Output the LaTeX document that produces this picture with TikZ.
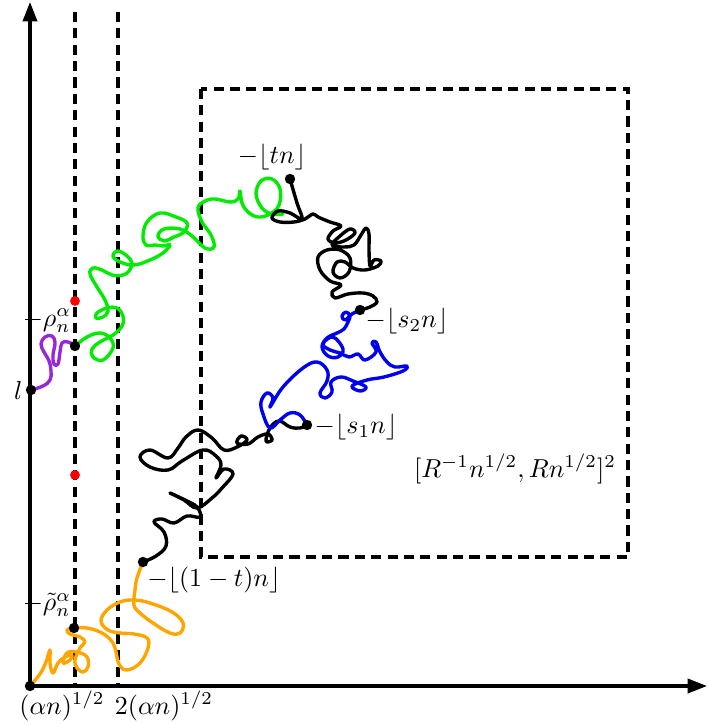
\documentclass[tikz,border=0pt]{standalone}
\usetikzlibrary{arrows.meta}
\definecolor{wgreen}{RGB}{0,235,0}
\definecolor{wblue}{RGB}{0,0,240}
\definecolor{worange}{RGB}{255,165,0}
\definecolor{wpurple}{RGB}{150,40,215}
\definecolor{wred}{RGB}{255,0,0}
\tikzset{
  axis/.style={line width=1.2pt,-{Triangle[length=7.5pt,width=5.5pt]}},
  dashln/.style={line width=1.2pt,dash pattern=on 3.9pt off 2.4pt},
  walk/.style={line width=1.3pt,line join=round,line cap=round},
  dot/.style={circle,fill=black,inner sep=0pt,minimum size=4pt},
  rdot/.style={circle,fill=wred,inner sep=0pt,minimum size=3.8pt},
  lbl/.style={inner sep=0pt,font=\normalsize}
}
\begin{document}
\begin{tikzpicture}[x=0.385pt,y=-0.385pt]
\useasboundingbox (0,0) rectangle (709,724);
% axes
\coordinate (O) at (30,686);
\coordinate (ytop) at (30,2);
\coordinate (xend) at (707,686);
\draw[axis] (O) -- (ytop);
\draw[axis] (O) -- (xend);
% dashed verticals
\coordinate (d1t) at (75,12); \coordinate (d1b) at (75,686);
\coordinate (d2t) at (118,12); \coordinate (d2b) at (118,686);
\draw[dashln] (d1t) -- (d1b);
\draw[dashln] (d2t) -- (d2b);
% dashed box
\draw[dashln] (201,89) rectangle (628,557);
% labels
\node[lbl,anchor=east] (ll) at (23,390) {$l$};
\node[lbl] (lrho) at (47,321) {$-\rho_n^\alpha$};
\node[lbl] (ltrho) at (47,605) {$-\tilde\rho_n^\alpha$};
\node[lbl] (lx1) at (62,706) {$(\alpha n)^{1/2}$};
\node[lbl] (lx2) at (164,706) {$2(\alpha n)^{1/2}$};
\node[lbl] (llow) at (214,580) {$-\lfloor(1-t)n\rfloor$};
\node[lbl] (ls1) at (356,427) {$-\lfloor s_1n\rfloor$};
\node[lbl] (ls2) at (407,321) {$-\lfloor s_2n\rfloor$};
\node[lbl] (ltn) at (272,157) {$-\lfloor tn\rfloor$};
\node[lbl] (lbox) at (515,469) {$[R^{-1}n^{1/2},Rn^{1/2}]^2$};
% dot positions
\coordinate (orig) at (30,686);
\coordinate (ldot) at (31,390);
\coordinate (rho) at (75,346);
\coordinate (trho) at (74,628);
\coordinate (low) at (143,562);
\coordinate (s1) at (307,425);
\coordinate (s2) at (360,310);
\coordinate (tn) at (290,179);
% purple walk
\draw[walk,wpurple] plot[smooth,tension=0.7] coordinates {(ldot) (43,386) (50,380) (51,371) (49,361) (44,352) (41,344) (45,337) (52,336) (55,343) (53,355) (54,364) (58,364) (60,352) (62,343) (68,342) (rho)};
% green walk
\draw[walk,wgreen] plot[smooth,tension=0.65] coordinates {(rho) (87,337) (100,333) (110,338) (113,348) (103,360) (93,357) (92,349) (100,342) (113,335) (122,326) (123,316) (117,308) (107,308) (97,313) (96,318) (103,317) (108,311) (105,300) (97,287) (90,274) (93,268) (102,270) (112,275) (123,275) (129,271) (132,263) (127,256) (118,251) (113,256) (120,262) (134,265) (150,260) (163,253) (170,245) (163,246) (155,245) (146,245) (143,236) (147,222) (160,213) (176,217) (187,223) (184,232) (174,237) (164,241) (158,236) (164,229) (180,229) (192,236) (205,248) (214,247) (211,235) (202,222) (198,208) (205,201) (215,199) (230,202) (238,199) (240,191) (242,203) (248,212) (258,217) (270,214) (279,205) (280,189) (272,179) (261,181) (256,194) (262,208) (272,214) (283,214)};
% orange walk
\draw[walk,worange] plot[smooth,tension=0.65] coordinates {(orig) (40,674) (46,662) (50,650) (50,663) (53,673) (58,663) (65,657) (72,655) (70,660) (63,663) (67,653) (77,652) (87,657) (88,667) (83,672) (77,668) (75,660) (80,648) (85,642) (80,637) (70,634) (67,630) (trho) (87,628) (100,632) (110,639) (115,648) (119,664) (127,670) (140,663) (148,648) (147,638) (134,634) (120,633) (108,630) (101,621) (107,610) (120,602) (134,600) (150,603) (172,612) (183,623) (180,633) (170,633) (153,623) (140,613) (134,605) (135,590) (137,578) (low)};
% black lower walk
\draw[walk,black] plot[smooth,tension=0.65] coordinates {(low) (156,556) (166,546) (164,532) (154,522) (162,519) (174,523) (187,516) (200,517) (197,507) (185,500) (170,493) (184,500) (197,508) (212,498) (222,488) (233,474) (224,469) (216,478) (221,465) (216,456) (203,450) (182,461) (168,470) (150,467) (140,457) (150,450) (168,458) (178,448) (186,437) (198,430) (212,438) (224,450) (237,447) (247,440) (241,436) (237,443) (248,444) (258,437) (268,434) (272,440) (266,441) (270,428) (279,421) (290,427) (300,428) (s1)};
% blue walk
\draw[walk,wblue] plot[smooth,tension=0.65] coordinates {(s1) (300,415) (290,413) (280,420) (270,428) (263,414) (261,402) (267,393) (273,398) (270,407) (283,387) (303,368) (317,362) (327,370) (327,381) (320,393) (325,398) (332,392) (331,382) (341,377) (353,381) (366,387) (360,391) (352,386) (367,380) (384,377) (403,371) (407,366) (395,367) (387,362) (380,352) (376,342) (372,343) (376,352) (365,360) (358,354) (349,357) (340,353) (330,350) (323,344) (333,337) (343,349) (338,357) (328,356) (322,347) (327,338) (337,333) (344,329) (348,322) (350,316) (346,312) (342,316) (345,320) (352,314) (s2)};
% black upper walk
\draw[walk,black] plot[smooth,tension=0.6] coordinates {(s2) (370,307) (377,302) (373,296) (363,293) (348,294) (335,298) (332,292) (341,285) (330,281) (320,270) (318,257) (327,250) (340,250) (350,258) (349,272) (340,278) (333,272) (337,262) (345,262) (353,268) (365,270) (378,266) (381,261) (374,260) (370,266) (369,250) (369,234) (366,228) (361,235) (354,245) (344,247) (332,245) (340,236) (350,229) (355,233) (346,240) (335,243) (328,239) (333,231) (341,226) (330,222) (318,217) (313,214) (305,219) (294,222) (280,222) (272,218) (278,211) (290,213) (302,219) (297,203) (tn)};
% dots on top
\node[dot] (origd) at (orig) {};
\node[dot] (ldotd) at (ldot) {};
\node[dot] (rhod) at (rho) {};
\node[dot] (trhod) at (trho) {};
\node[dot] (lowd) at (low) {};
\node[dot] (s1d) at (s1) {};
\node[dot] (s2d) at (s2) {};
\node[dot] (tnd) at (tn) {};
\node[rdot] (r1) at (75,301) {};
\node[rdot] (r2) at (75,475) {};
\end{tikzpicture}
\end{document}
